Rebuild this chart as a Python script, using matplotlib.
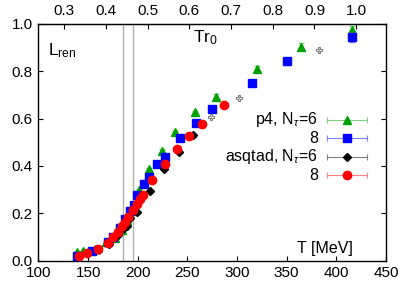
import numpy as np
import matplotlib.pyplot as plt

plt.rcParams['font.family'] = ['Liberation Sans', 'DejaVu Sans']
plt.rcParams['font.size'] = 11
plt.rcParams['mathtext.fontset'] = 'custom'
plt.rcParams['mathtext.rm'] = 'Liberation Sans'
plt.rcParams['mathtext.it'] = 'Liberation Sans:italic'

# p4, Nt=6
T_p4_6 = [139, 145, 157, 168, 177, 184, 189, 194, 201.5, 211, 224, 237.8, 258, 278.5, 319.7, 364, 415.4]
L_p4_6 = [0.035, 0.041, 0.050, 0.080, 0.095, 0.130, 0.170, 0.210, 0.298, 0.387, 0.463, 0.542, 0.626, 0.692, 0.808, 0.903, 0.973]
E_p4_6 = [0.004, 0.004, 0.004, 0.004, 0.005, 0.005, 0.005, 0.006, 0.006, 0.006, 0.007, 0.007, 0.008, 0.010, 0.012, 0.014, 0.016]

# p4, Nt=8
T_p4_8 = [139, 154, 170.3, 175.3, 182, 187, 192, 196, 199, 206.5, 211.3, 219.3, 227.4, 242.5, 258.6, 275, 314.7, 350.5, 416]
L_p4_8 = [0.021, 0.042, 0.078, 0.099, 0.139, 0.175, 0.210, 0.235, 0.277, 0.324, 0.352, 0.408, 0.439, 0.519, 0.582, 0.639, 0.751, 0.841, 0.943]
E_p4_8 = [0.004, 0.004, 0.004, 0.004, 0.005, 0.005, 0.005, 0.005, 0.006, 0.006, 0.006, 0.006, 0.007, 0.007, 0.008, 0.010, 0.013, 0.016, 0.020]

# asqtad, Nt=6 (filled below, open above)
T_as_6 = [171, 180, 186, 188.8, 192, 199, 212.3, 226.4, 241.5, 256]
L_as_6 = [0.070, 0.110, 0.140, 0.148, 0.180, 0.204, 0.294, 0.386, 0.460, 0.530]
E_as_6 = [0.003, 0.003, 0.004, 0.004, 0.004, 0.004, 0.004, 0.005, 0.005, 0.006]
T_as_6o = [161, 273.7, 302.2, 382.5]
L_as_6o = [0.040, 0.605, 0.688, 0.889]
E_as_6o = [0.004, 0.006, 0.007, 0.008]

# asqtad, Nt=8
T_as_8 = [140.8, 149, 159.6, 169.7, 175.3, 180.4, 183.8, 187, 190.4, 194.9, 198.9, 202.2, 205.5, 214.6, 227.4, 239.2, 251.9, 265, 286.8]
L_as_8 = [0.021, 0.031, 0.049, 0.076, 0.099, 0.122, 0.146, 0.165, 0.183, 0.214, 0.239, 0.260, 0.277, 0.340, 0.407, 0.470, 0.526, 0.577, 0.657]
E_as_8 = [0.003] * len(T_as_8)

T_lines = [185, 195]
xticks = [100, 150, 200, 250, 300, 350, 400, 450]
yticks = [0.0, 0.2, 0.4, 0.6, 0.8, 1.0]
top_ticks = [0.3, 0.4, 0.5, 0.6, 0.7, 0.8, 0.9, 1.0]
T_per_Tr0 = 420.0

legend_labels = ['p4, N$_\\tau$=6', '8', 'asqtad, N$_\\tau$=6', '8']

fig = plt.figure(figsize=(4.06, 2.94), dpi=100)
ax = fig.add_axes([0.0948, 0.1133, 0.8559, 0.8057])

for xv in T_lines:
    ax.axvline(xv, color='#b0b0b0', lw=1.0, zorder=1)

green = '#00a000'
ax.errorbar(T_p4_6, L_p4_6, yerr=E_p4_6, fmt='^', color=green, ms=5.5, ecolor='#80d080',
            elinewidth=0.8, capsize=2, zorder=3)
ax.errorbar(T_p4_8, L_p4_8, yerr=E_p4_8, fmt='s', color='#0000ff', ms=5.5, ecolor='#8080ff',
            elinewidth=0.8, capsize=2, zorder=4)
ax.errorbar(T_as_6, L_as_6, yerr=E_as_6, fmt='D', color='black', ms=4, ecolor='#808080',
            elinewidth=0.8, capsize=2, zorder=5)
ax.errorbar(T_as_6o, L_as_6o, yerr=E_as_6o, fmt='P', color='#808080', mfc='none', ms=5,
            mew=0.8, ecolor='#a0a0a0', elinewidth=0.8, capsize=0, zorder=5)
ax.errorbar(T_as_8, L_as_8, yerr=E_as_8, fmt='o', color='#ff0000', ms=6, ecolor='#ff8080',
            elinewidth=0.8, capsize=2, zorder=6)

ax.set_xlim(100, 450)
ax.set_ylim(0, 1.0)
ax.set_xticks(xticks)
ax.set_yticks(yticks)
ax.set_yticklabels(['%.1f' % v for v in yticks])
ax.tick_params(direction='in', length=3.5, width=0.8, right=True, pad=4)
for s in ax.spines.values():
    s.set_linewidth(1.0)

sec = ax.secondary_xaxis('top', functions=(lambda T: T / T_per_Tr0, lambda t: t * T_per_Tr0))
sec.set_xticks(top_ticks)
sec.set_xticklabels(['%.1f' % v for v in top_ticks])
sec.tick_params(direction='in', length=3.5, width=0.8, pad=4)

ax.text(0.027, 0.885, 'L$_{\\rm ren}$', transform=ax.transAxes, fontsize=12.5, va='center')
ax.text(0.445, 0.94, 'Tr$_0$', transform=ax.transAxes, fontsize=12.5, va='center')
ax.text(0.905, 0.05, 'T [MeV]', transform=ax.transAxes, fontsize=11.5, ha='right', va='center')

# gnuplot style legend
leg_styles = [('^', green, '#80d080', 5.5), ('s', '#0000ff', '#8080ff', 5.5),
              ('D', 'black', '#808080', 4), ('o', '#ff0000', '#ff8080', 6)]
ys = [0.594, 0.516, 0.439, 0.361]
for lab, (mk, c, ec, ms), yy in zip(legend_labels, leg_styles, ys):
    ax.text(0.804, yy, lab, transform=ax.transAxes, ha='right', va='center', fontsize=11.5)
    ax.plot([0.831, 0.946], [yy, yy], color=ec, lw=0.8, transform=ax.transAxes, clip_on=False)
    ax.plot([0.831, 0.946], [yy, yy], ls='none', marker='|', ms=4, mew=0.8, color=ec,
            transform=ax.transAxes, clip_on=False)
    ax.plot([0.889], [yy], ls='none', marker=mk, ms=ms, color=c, transform=ax.transAxes, clip_on=False)

fig.savefig('out.png', dpi=100)
